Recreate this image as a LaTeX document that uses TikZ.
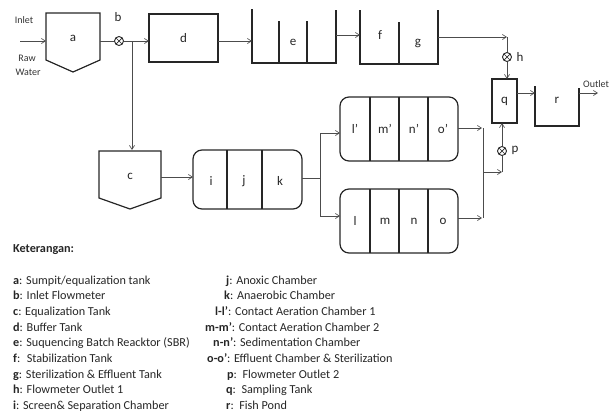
\documentclass[tikz,border=0pt]{standalone}
\usepackage{fontspec}
\setmainfont{Carlito}
\usetikzlibrary{arrows.meta}
\begin{document}
\begin{tikzpicture}[x=1pt,y=-1pt,
  wall/.style={draw=black!85, line width=1.2pt},
  conn/.style={draw=black!70, line width=0.65pt},
  arr/.style={conn, -{Straight Barb[length=4pt,width=5pt]}},
  box/.style={wall, rectangle, inner sep=0pt, outer sep=0pt},
  rbox/.style={box, rounded corners=9pt},
  lbl/.style={font=\fontsize{13}{13}\selectfont, inner sep=0pt, text=black!85},
  small/.style={font=\fontsize{10}{10}\selectfont, inner sep=0pt, text=black!80},
  fm/.style={circle, draw=black!85, line width=0.9pt, minimum size=9pt, inner sep=0pt,
    path picture={\draw[line width=0.7pt] (path picture bounding box.north west) -- (path picture bounding box.south east)
      (path picture bounding box.north east) -- (path picture bounding box.south west);}},
  leg/.style={font=\fontsize{12.2}{12.2}\selectfont, anchor=base west, inner sep=0pt, text=black!85}
]
\useasboundingbox (0,0) rectangle (613,416);

% ---------- top row ----------
\draw[wall] (46,13) -- (100,13) -- (100,60) -- (73,72) -- (46,60) -- cycle;
\node[lbl] (a) at (73,38) {a};
\coordinate (aIn) at (46,41);
\coordinate (aOut) at (100,41);
\coordinate (inStart) at (20,41);
\node[small] (inlet) at (24,20) {Inlet};
\node[small] (raw) at (27,58) {Raw};
\node[small] (water) at (28,72) {Water};
\draw[arr] (inStart) -- (aIn);

\node[fm] (b) at (119,41) {};
\node[lbl] (bl) at (118,17) {b};
\draw[conn] (aOut) -- (b);
\coordinate (jb) at (132,41);
\draw[conn] (b) -- (jb);

\node[box, minimum width=69pt, minimum height=48pt] (d) at (183.5,38) {};
\node[lbl] at (d) {d};
\draw[arr] (jb) -- (d.west |- jb);

% e tank
\draw[wall] (252,9) -- (252,63) -- (336,63) -- (336,10);
\draw[wall] (279,21) -- (279,63) (307,21) -- (307,63);
\node[lbl] (e) at (293,42) {e};
\coordinate (eIn) at (252,41);
\coordinate (eOut) at (336,35);
\draw[arr] (d.east |- eIn) -- (eIn);

% f/g tank
\draw[wall] (360,10) -- (360,64) -- (438,64) -- (438,10);
\draw[wall] (399,22) -- (399,64);
\node[lbl] (f) at (380,35) {f};
\node[lbl] (g) at (418,43) {g};
\coordinate (fIn) at (360,35);
\coordinate (gOut) at (438,37);
\draw[arr] (eOut) -- (fIn);

\coordinate (hTop) at (507,37);
\draw[arr] (gOut) -- (hTop);
\node[fm] (h) at (507,57) {};
\node[lbl] (hl) at (520,57) {h};
\draw[conn] (hTop) -- (h);

\node[box, minimum width=25pt, minimum height=44pt] (q) at (504.5,101) {};
\node[lbl] at (q) {q};
\draw[arr] (h) -- (h |- q.north);

% r tank
\draw[wall] (535,86) -- (535,126) -- (579,126) -- (579,88);
\node[lbl] (r) at (557,100) {r};
\coordinate (rIn) at (535,93);
\coordinate (rOut) at (579,93);
\coordinate (outEnd) at (598,93);
\draw[arr] (q.east |- rIn) -- (rIn);
\draw[arr] (rOut) -- (outEnd);
\node[small, anchor=west] (outlet) at (583,84) {Outlet};

% ---------- second row ----------
\draw[wall] (99,151) -- (161,151) -- (161,198) -- (130,209) -- (99,198) -- cycle;
\node[lbl] (c) at (130,176) {c};
\draw[arr] (jb) -- (132,150);

\node[rbox, minimum width=109pt, minimum height=59pt] (ijk) at (247.5,179.5) {};
\draw[wall] (227,150) -- (227,209) (262,150) -- (262,209);
\node[lbl] (i) at (211,181) {i};
\node[lbl] (j) at (244,181) {j};
\node[lbl] (k) at (280,181) {k};
\draw[arr] (161,177) -- (ijk.west |- 0,177);

\node[rbox, minimum width=118pt, minimum height=64pt] (up) at (399,129) {};
\draw[wall] (370,97) -- (370,161) (399,97) -- (399,161) (428,97) -- (428,161);
\node[lbl] (l1) at (355,129) {l’};
\node[lbl] (m1) at (385,129) {m’};
\node[lbl] (n1) at (414,129) {n’};
\node[lbl] (o1) at (443,129) {o’};

\node[rbox, minimum width=118pt, minimum height=64pt] (lo) at (399,221) {};
\draw[wall] (370,189) -- (370,253) (399,189) -- (399,253) (428,189) -- (428,253);
\node[lbl] (l) at (355,221) {l};
\node[lbl] (m) at (385,221) {m};
\node[lbl] (n) at (414,221) {n};
\node[lbl] (o) at (443,221) {o};

\coordinate (sp) at (320,178);
\draw[conn] (ijk.east |- sp) -- (sp);
\draw[conn] (320,133) -- (320,216);
\draw[arr] (320,133) -- (up.west |- 0,133);
\draw[arr] (320,216) -- (lo.west |- 0,216);

\coordinate (mg) at (483,172);
\draw[arr] (up.east |- 0,128) -- (482,128);
\draw[arr] (lo.east |- 0,218) -- (482,218);
\draw[conn] (483,128) -- (483,218);
\node[fm] (p) at (502,151) {};
\node[lbl] (pl) at (515,150) {p};
\coordinate (pc) at (502,172);
\draw[arr] (mg) -- (pc);
\draw[conn] (pc) -- (p);
\draw[arr] (p) -- (p |- q.south);

% ---------- legend ----------
\node[leg, font=\fontsize{12.2}{12.2}\selectfont\bfseries] at (13,252) {Keterangan:};
\foreach \y/\k/\t in {284/a/{Sumpit/equalization tank}, 299.7/b/Inlet Flowmeter, 315.4/c/Equalization Tank,
  331.1/d/Buffer Tank, 346.8/e/Suquencing Batch Reacktor (SBR), 362.5/f/\ Stabilization Tank,
  378.2/g/Sterilization \& Effluent Tank, 393.9/h/Flowmeter Outlet 1, 409.6/i/Screen\& Separation Chamber}
  {\node[leg] at (13,\y) {\textbf{\k}: \t};}
\node[leg] at (226,284) {\textbf{j}: Anoxic Chamber};
\node[leg] at (224,299.7) {\textbf{k}: Anaerobic Chamber};
\node[leg] at (215,315.4) {\textbf{l-l’}: Contact Aeration Chamber 1};
\node[leg] at (205,331.1) {\textbf{m-m’}: Contact Aeration Chamber 2};
\node[leg] at (213,346.8) {\textbf{n-n’}: Sedimentation Chamber};
\node[leg] at (207,362.5) {\textbf{o-o’}: Effluent Chamber \& Sterilization};
\node[leg] at (227,378.2) {\textbf{p}:\ \ Flowmeter Outlet 2};
\node[leg] at (226,393.9) {\textbf{q}:\ \ Sampling Tank};
\node[leg] at (226,409.6) {\textbf{r}:\ \ Fish Pond};
\end{tikzpicture}
\end{document}
